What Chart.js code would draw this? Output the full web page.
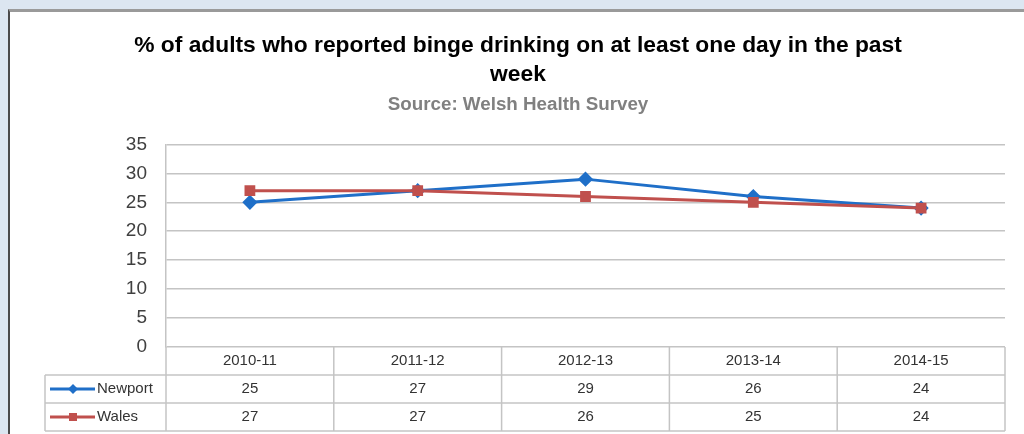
<!DOCTYPE html>
<html>
<head>
<meta charset="utf-8">
<title>Binge drinking</title>
<script src="https://cdn.jsdelivr.net/npm/chart.js@4.4.1/dist/chart.umd.min.js"></script>
<style>
    html, body { margin: 0; padding: 0; }
    body {
        width: 1024px;
        height: 434px;
        background: #dce6f1;
        position: relative;
        overflow: hidden;
    }
    #frame {
        position: absolute;
        left: 8px;
        top: 9px;
        width: 1016px;
        height: 425px;
        background: #ffffff;
        border-left: 2px solid #4a4a4a;
        border-top: 3px solid #9a9a9a;
    }
    #chart { display: block; }
</style>
</head>
<body>
<div id="frame">
    <canvas id="chart" width="1014" height="422"></canvas>
</div>
<script>
// Binge drinking chart with an Excel-style data table under the x axis

const categories = ['2010-11', '2011-12', '2012-13', '2013-14', '2014-15'];
const newportValues = [25, 27, 29, 26, 24];
const walesValues = [27, 27, 26, 25, 24];
const yTicks = [0, 5, 10, 15, 20, 25, 30, 35];

const titleLines = ['% of adults who reported binge drinking on at least one day in the past', 'week'];
const subtitleText = 'Source: Welsh Health Survey';

const FONT = '"Liberation Sans", Arial, sans-serif';
const GRID = '#c4c4c4';
const ROW_H = 28;

// draws the table rows (header + one row per series) below the plot area
const dataTablePlugin = {
    id: 'dataTable',
    afterDraw(chart) {
        const ctx = chart.ctx;
        const area = chart.chartArea;
        const xScale = chart.scales.x;
        const colW = (area.right - area.left) / categories.length;
        const top = area.bottom;
        const legendLeft = 35;

        ctx.save();
        ctx.strokeStyle = GRID;
        ctx.lineWidth = 1.5;

        // horizontal rules
        [1, 2, 3].forEach(r => {
            const y = top + r * ROW_H;
            ctx.beginPath();
            ctx.moveTo(legendLeft, y);
            ctx.lineTo(area.right, y);
            ctx.stroke();
        });

        // vertical rules between categories
        for (let i = 0; i <= categories.length; i++) {
            const x = area.left + i * colW;
            ctx.beginPath();
            ctx.moveTo(x, top);
            ctx.lineTo(x, top + 3 * ROW_H);
            ctx.stroke();
        }
        ctx.beginPath();
        ctx.moveTo(legendLeft, top + ROW_H);
        ctx.lineTo(legendLeft, top + 3 * ROW_H);
        ctx.stroke();

        ctx.font = '15px ' + FONT;
        ctx.fillStyle = '#333333';
        ctx.textAlign = 'center';
        ctx.textBaseline = 'middle';

        categories.forEach((label, i) => {
            const cx = xScale.getPixelForValue(i);
            ctx.fillText(label, cx, top + ROW_H / 2);
        });

        chart.data.datasets.forEach((ds, r) => {
            const cy = top + ROW_H * (r + 1) + ROW_H / 2;
            ds.data.forEach((v, i) => {
                ctx.fillText(String(v), xScale.getPixelForValue(i), cy);
            });

            // legend key: line with marker
            ctx.strokeStyle = ds.borderColor;
            ctx.lineWidth = 3;
            ctx.beginPath();
            ctx.moveTo(40, cy);
            ctx.lineTo(85, cy);
            ctx.stroke();

            ctx.fillStyle = ds.borderColor;
            ctx.beginPath();
            if (ds.pointStyle === 'rectRot') {
                ctx.moveTo(63, cy - 5);
                ctx.lineTo(68, cy);
                ctx.lineTo(63, cy + 5);
                ctx.lineTo(58, cy);
                ctx.closePath();
            } else {
                ctx.rect(59, cy - 4, 8, 8);
            }
            ctx.fill();

            ctx.fillStyle = '#333333';
            ctx.textAlign = 'left';
            ctx.fillText(ds.label, 87, cy);
            ctx.textAlign = 'center';
        });

        ctx.restore();
    }
};

const ctx = document.getElementById('chart').getContext('2d');

new Chart(ctx, {
    type: 'line',
    data: {
        labels: categories,
        datasets: [
            {
                label: 'Newport',
                data: newportValues,
                borderColor: '#1f6fc8',
                backgroundColor: '#1f6fc8',
                borderWidth: 3,
                pointStyle: 'rectRot',
                pointRadius: 5.5,
                pointHoverRadius: 5.5,
                tension: 0,
                order: 1
            },
            {
                label: 'Wales',
                data: walesValues,
                borderColor: '#c0504d',
                backgroundColor: '#c0504d',
                borderWidth: 3,
                pointStyle: 'rect',
                pointRadius: 5.5,
                pointHoverRadius: 5.5,
                tension: 0,
                order: 0
            }
        ]
    },
    options: {
        responsive: false,
        animation: false,
        devicePixelRatio: 1,
        layout: {
            padding: { left: 21, right: 19, top: 0, bottom: 3 * ROW_H + 3 }
        },
        plugins: {
            legend: { display: false },
            tooltip: { enabled: false },
            title: {
                display: true,
                text: titleLines,
                color: '#000000',
                font: { family: FONT, size: 22.8, weight: 'bold', lineHeight: 1.272 },
                padding: { top: 19, bottom: 6 }
            },
            subtitle: {
                display: true,
                text: subtitleText,
                color: '#808080',
                font: { family: FONT, size: 18.8, weight: 'bold', lineHeight: 1.085 },
                padding: { top: 0, bottom: 29 }
            }
        },
        scales: {
            x: {
                display: false,
                offset: true
            },
            y: {
                min: 0,
                max: 35,
                afterBuildTicks: scale => {
                    scale.ticks = yTicks.map(v => ({ value: v }));
                },
                afterFit: scale => {
                    scale.width = 135;
                },
                grid: {
                    color: GRID,
                    lineWidth: 1.5,
                    drawTicks: false
                },
                border: { display: true, color: GRID, width: 1.5 },
                ticks: {
                    color: '#404040',
                    padding: 19,
                    font: { family: FONT, size: 19 }
                }
            }
        }
    },
    plugins: [dataTablePlugin]
});
</script>
</body>
</html>
